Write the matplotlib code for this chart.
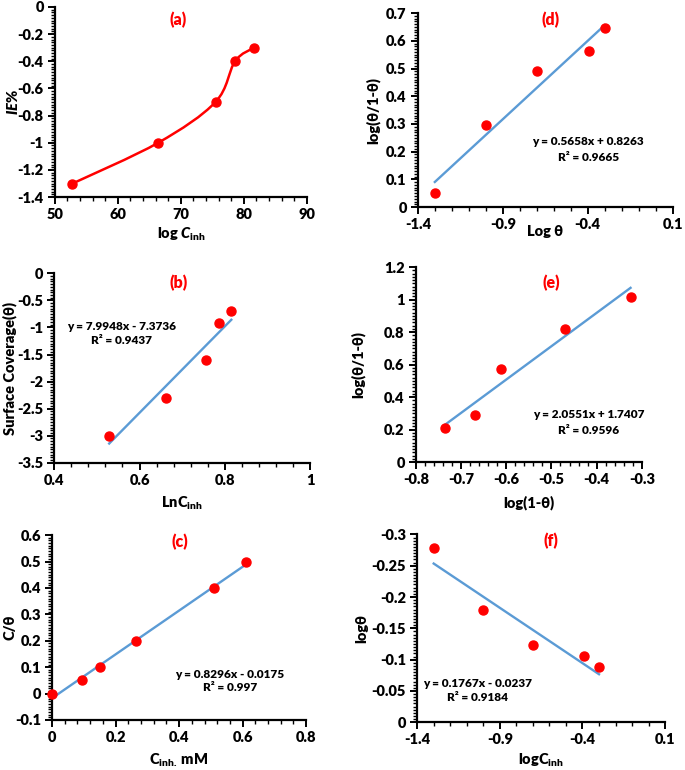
import numpy as np
import matplotlib
matplotlib.use("Agg")
import matplotlib.pyplot as plt
from matplotlib.path import Path
from matplotlib.patches import PathPatch
from matplotlib.ticker import MultipleLocator, FuncFormatter

plt.rcParams['font.family'] = ['Lato', 'DejaVu Sans']
plt.rcParams['font.weight'] = 'heavy'
plt.rcParams['mathtext.fontset'] = 'custom'
plt.rcParams['mathtext.rm'] = 'Lato:heavy'
plt.rcParams['mathtext.it'] = 'Lato:heavy:italic'
plt.rcParams['mathtext.bf'] = 'Lato:heavy'

RED = '#FF0000'
BLUE = '#5B9BD5'
W = 'heavy'

# (a) IE% vs log C_inh  (smoothed line)
a_x = [52.8, 66.4, 75.5, 78.6, 81.6]
a_y = [-1.3, -1.0, -0.7, -0.4, -0.3]

# (b) Surface coverage vs LnC_inh
b_x = [0.529, 0.663, 0.755, 0.785, 0.815]
b_y = [-3.0, -2.3, -1.61, -0.92, -0.69]
b_fit = (7.9948, -7.3736)

# (c) C/theta vs C_inh
c_x = [0.0, 0.095, 0.151, 0.263, 0.509, 0.612]
c_y = [0.0, 0.05, 0.10, 0.20, 0.40, 0.50]
c_fit = (0.8296, -0.0175)

# (d) log(theta/1-theta) vs log theta
d_x = [-1.30, -1.00, -0.70, -0.39, -0.30]
d_y = [0.051, 0.295, 0.49, 0.563, 0.647]
d_fit = (0.5658, 0.8263)

# (e) log(theta/1-theta) vs log(1-theta)
e_x = [-0.736, -0.669, -0.611, -0.471, -0.325]
e_y = [0.209, 0.291, 0.574, 0.818, 1.019]
e_fit = (2.0551, 1.7407)

# (f) log theta vs log C_inh
f_x = [-1.30, -1.00, -0.70, -0.39, -0.30]
f_y = [-0.279, -0.180, -0.123, -0.106, -0.089]
f_fit = (0.1767, -0.0237)

FIG_W, FIG_H = 685, 770


def fmt(v, pos):
    s = f"{round(v, 6):g}"
    return "0" if s == "-0" else s


def style(ax, xlim, xstep, ylim, ystep, xoff=0.0):
    ax.set_xlim(*xlim)
    ax.set_ylim(*ylim)
    ax.xaxis.set_major_locator(MultipleLocator(xstep, offset=xoff))
    ax.yaxis.set_major_locator(MultipleLocator(ystep))
    ax.xaxis.set_minor_locator(MultipleLocator(xstep / 5, offset=xoff))
    ax.yaxis.set_minor_locator(MultipleLocator(ystep / 10))
    ax.xaxis.set_major_formatter(FuncFormatter(fmt))
    ax.yaxis.set_major_formatter(FuncFormatter(fmt))
    for s in ['top', 'right']:
        ax.spines[s].set_visible(False)
    for s in ['left', 'bottom']:
        ax.spines[s].set_linewidth(1.6)
    ax.tick_params(which='major', length=5, width=1.4, labelsize=10.5, pad=3)
    ax.tick_params(which='minor', length=3, width=1.0)
    for lab in ax.get_xticklabels() + ax.get_yticklabels():
        lab.set_fontweight(W)


def labels(ax, xlabel, ylabel, xl_py, yl_px):
    # place axis labels at pixel positions of the reference figure
    ax.set_xlabel(xlabel, fontsize=10.5, fontweight=W)
    ax.set_ylabel(ylabel, fontsize=10.5, fontweight=W)
    l, b, w, h = ax.get_position().bounds
    ax.xaxis.set_label_coords(0.5, ((1 - xl_py / FIG_H) - b) / h)
    ax.yaxis.set_label_coords((yl_px / FIG_W - l) / w, 0.5)
    ax.xaxis.label.set_va('center')
    ax.yaxis.label.set_va('center')


def trend(ax, x, coef):
    xs = np.array([min(x), max(x)])
    ax.plot(xs, coef[0] * xs + coef[1], color=BLUE, lw=1.7, zorder=2)


def eq_text(ax, x, y1, y2, coef, r2):
    sign = '+' if coef[1] >= 0 else '-'
    ax.text(x, y1, f"y = {coef[0]:.4f}x {sign} {abs(coef[1]):.4f}", ha='center', va='center',
            fontsize=8.5, fontweight=W)
    ax.text(x, y2, f"R² = {r2}", ha='center', va='center', fontsize=8.5, fontweight=W)


def panel_label(ax, x, y, s):
    ax.text(x, y, s, ha='center', va='center', color=RED, fontsize=11.5, fontweight=W)


def smooth_path(x, y):
    n = len(x)
    verts = [(x[0], y[0])]
    codes = [Path.MOVETO]
    for i in range(n - 1):
        p0 = i - 1 if i > 0 else i
        p3 = i + 2 if i + 2 < n else i + 1
        c1 = (x[i] + (x[i + 1] - x[p0]) / 6, y[i] + (y[i + 1] - y[p0]) / 6)
        c2 = (x[i + 1] - (x[p3] - x[i]) / 6, y[i + 1] - (y[p3] - y[i]) / 6)
        verts += [c1, c2, (x[i + 1], y[i + 1])]
        codes += [Path.CURVE4] * 3
    return Path(verts, codes)


fig = plt.figure(figsize=(6.85, 7.7), dpi=100)

# (a)
ax = fig.add_axes([0.080, 0.744, 0.368, 0.247])
ax.add_patch(PathPatch(smooth_path(a_x, a_y), facecolor='none', edgecolor=RED, lw=1.8, zorder=2))
ax.plot(a_x, a_y, 'o', color=RED, ms=6.5, zorder=3)
style(ax, (50, 90), 10, (-1.4, 0), 0.2)
labels(ax, r'log $\mathit{C}_{\mathrm{inh}}$', r'$\mathit{IE}$%', 234, 12)
panel_label(ax, 69.5, -0.098, '(a)')

# (d)
ax = fig.add_axes([0.610, 0.731, 0.372, 0.252])
trend(ax, d_x, d_fit)
ax.plot(d_x, d_y, 'o', color=RED, ms=6.5, zorder=3)
style(ax, (-1.4, 0.1), 0.5, (0, 0.7), 0.1, xoff=0.1)
labels(ax, 'Log θ', 'log(θ/1-θ)', 232, 373)
eq_text(ax, -0.398, 0.235, 0.18, d_fit, '0.9665')
panel_label(ax, -0.62, 0.674, '(d)')

# (b)
ax = fig.add_axes([0.079, 0.399, 0.374, 0.246])
trend(ax, b_x, b_fit)
ax.plot(b_x, b_y, 'o', color=RED, ms=6.5, zorder=3)
style(ax, (0.4, 1.0), 0.2, (-3.5, 0), 0.5)
labels(ax, r'LnC$_{\mathrm{inh}}$', 'Surface Coverage(θ)', 503, 10)
eq_text(ax, 0.558, -0.98, -1.25, b_fit, '0.9437')
panel_label(ax, 0.691, -0.18, '(b)')

# (e)
ax = fig.add_axes([0.607, 0.400, 0.330, 0.253])
trend(ax, e_x, e_fit)
ax.plot(e_x, e_y, 'o', color=RED, ms=6.5, zorder=3)
style(ax, (-0.8, -0.3), 0.1, (0, 1.2), 0.2)
labels(ax, 'log(1-θ)', 'log(θ/1-θ)', 503, 358)
eq_text(ax, -0.418, 0.291, 0.195, e_fit, '0.9596')
panel_label(ax, -0.501, 1.10, '(e)')

# (c)
ax = fig.add_axes([0.076, 0.065, 0.371, 0.240])
trend(ax, c_x, c_fit)
ax.plot(c_x, c_y, 'o', color=RED, ms=6.5, zorder=3, clip_on=False)
style(ax, (0, 0.8), 0.2, (-0.1, 0.6), 0.1)
labels(ax, r'C$_{\mathrm{inh.}}$ mM', 'C/θ', 760, 10)
eq_text(ax, 0.559, 0.074, 0.022, c_fit, '0.997')
panel_label(ax, 0.401, 0.575, '(c)')

# (f)
ax = fig.add_axes([0.609, 0.062, 0.362, 0.244])
trend(ax, f_x, f_fit)
ax.plot(f_x, f_y, 'o', color=RED, ms=6.5, zorder=3)
style(ax, (-1.4, 0.1), 0.5, (0, -0.3), 0.05, xoff=0.1)
labels(ax, r'logC$_{\mathrm{inh}}$', 'logθ', 760, 362)
eq_text(ax, -1.036, -0.0625, -0.040, f_fit, '0.9184')
panel_label(ax, -0.592, -0.289, '(f)')

fig.savefig('out.png', dpi=100)
